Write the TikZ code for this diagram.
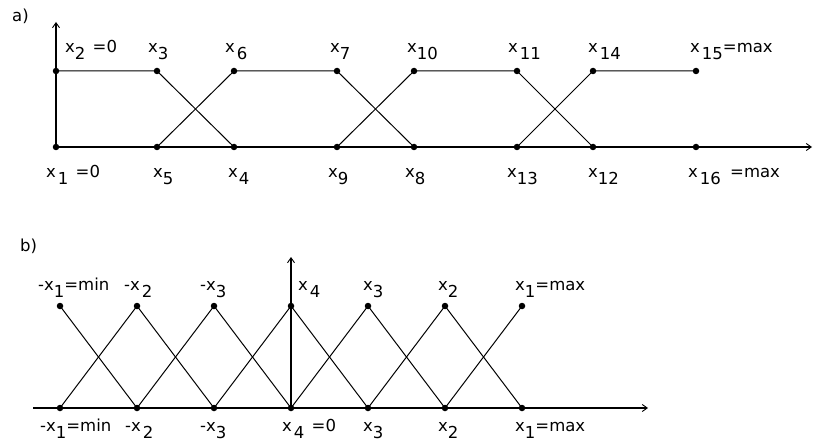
\documentclass[tikz,border=0pt]{standalone}
\usepackage{fontspec}
\setmainfont{DejaVu Sans}
\usetikzlibrary{arrows.meta}
\newcommand\lo[1]{\raisebox{-7pt}{#1}}
\tikzset{
  dot/.style={circle,fill=black,inner sep=0pt,minimum size=6.5pt},
  edge/.style={line width=1pt},
  axis/.style={line width=1.4pt},
  axarrow/.style={axis,-{Straight Barb[length=5pt,width=7pt,line width=0.9pt]}},
  lab/.style={anchor=base west,inner sep=0pt,font=\fontsize{16.5}{19}\selectfont}
}
\begin{document}
\begin{tikzpicture}[x=1pt,y=-1pt]
\useasboundingbox (0,0) rectangle (814,441);
% ---------- a) ----------
\node[lab] (la) at (12,22) {a)};
% top dots
\node[dot] (a2) at (56,71) {};
\node[dot] (a3) at (157,71) {};
\node[dot] (a6) at (234,71) {};
\node[dot] (a7) at (337,71) {};
\node[dot] (a10) at (414,71) {};
\node[dot] (a11) at (517,71) {};
\node[dot] (a14) at (593,71) {};
\node[dot] (a15) at (696,71) {};
% bottom dots
\node[dot] (a1) at (56,147) {};
\node[dot] (a5) at (157,147) {};
\node[dot] (a4) at (234,147) {};
\node[dot] (a9) at (337,147) {};
\node[dot] (a8) at (414,147) {};
\node[dot] (a13) at (517,147) {};
\node[dot] (a12) at (593,147) {};
\node[dot] (a16) at (696,147) {};
\coordinate (ay) at (56,22);
\coordinate (ax) at (812,147);
\draw[axarrow] (a1.center) -- (ay);
\draw[axarrow] (a1.center) -- (ax);
\draw[edge] (a2.center) -- (a3.center) -- (a4.center);
\draw[edge] (a5.center) -- (a6.center) -- (a7.center) -- (a8.center);
\draw[edge] (a9.center) -- (a10.center) -- (a11.center) -- (a12.center);
\draw[edge] (a13.center) -- (a14.center) -- (a15.center);
% labels top
\node[lab] (t2) at (65,53) {x\lo{2}\hspace{2pt} =0};
\node[lab] (t3) at (148,53) {x\lo{3}};
\node[lab] (t6) at (225,53) {x\hspace{2pt}\lo{6}};
\node[lab] (t7) at (330,53) {x\lo{7}};
\node[lab] (t10) at (407,53) {x\lo{10}};
\node[lab] (t11) at (508,53) {x\hspace{2pt}\lo{11}};
\node[lab] (t14) at (588,53) {x\hspace{2pt}\lo{14}};
\node[lab] (t15) at (690,53) {x\hspace{2pt}\lo{15}=max};
% labels bottom
\node[lab] (u1) at (46,177) {x\hspace{2pt}\lo{1}\hspace{2pt} =0};
\node[lab] (u5) at (153,177) {x\lo{5}};
\node[lab] (u4) at (228,177) {x\hspace{1pt}\lo{4}};
\node[lab] (u9) at (328,177) {x\lo{9}};
\node[lab] (u8) at (405,177) {x\lo{8}};
\node[lab] (u13) at (507,177) {x\lo{13}};
\node[lab] (u12) at (588,177) {x\lo{12}};
\node[lab] (u16) at (688,177) {x\hspace{2pt}\lo{16}\hspace{4pt} =max};
% ---------- b) ----------
\node[lab] (lb) at (20,251) {b)};
\node[dot] (p1) at (60,306) {};
\node[dot] (p2) at (137,306) {};
\node[dot] (p3) at (214,306) {};
\node[dot] (p4) at (291,306) {};
\node[dot] (p5) at (368,306) {};
\node[dot] (p6) at (445,306) {};
\node[dot] (p7) at (522,306) {};
\node[dot] (q1) at (60,408) {};
\node[dot] (q2) at (137,408) {};
\node[dot] (q3) at (214,408) {};
\node[dot] (q4) at (291,408) {};
\node[dot] (q5) at (368,408) {};
\node[dot] (q6) at (445,408) {};
\node[dot] (q7) at (522,408) {};
\coordinate (bx0) at (33,408);
\coordinate (bx1) at (648,408);
\coordinate (by) at (291,257);
\draw[axarrow] (bx0) -- (bx1);
\draw[axarrow] (q4.center) -- (by);
\draw[edge] (q1.center) -- (p2.center) -- (q3.center) -- (p4.center) -- (q5.center) -- (p6.center) -- (q7.center);
\draw[edge] (p1.center) -- (q2.center) -- (p3.center) -- (q4.center) -- (p5.center) -- (q6.center) -- (p7.center);
% labels top
\node[lab] (r1) at (38,290) {-x\lo{1}=min};
\node[lab] (r2) at (124,290) {-x\hspace{2pt}\lo{2}};
\node[lab] (r3) at (200,290) {-x\lo{3}};
\node[lab] (r4) at (298,290) {x\hspace{2pt}\lo{4}};
\node[lab] (r5) at (363,290) {x\lo{3}};
\node[lab] (r6) at (438,290) {x\lo{2}};
\node[lab] (r7) at (515,290) {x\lo{1}=max};
% labels bottom
\node[lab] (s1) at (40,431) {-x\lo{1}=min};
\node[lab] (s2) at (125,431) {-x\hspace{2pt}\lo{2}};
\node[lab] (s3) at (200,431) {-x\lo{3}};
\node[lab] (s4) at (282,431) {x\hspace{2pt}\lo{4}\hspace{2pt} =0};
\node[lab] (s5) at (363,431) {x\lo{3}};
\node[lab] (s6) at (438,431) {x\lo{2}};
\node[lab] (s7) at (515,431) {x\lo{1}=max};
\end{tikzpicture}
\end{document}
